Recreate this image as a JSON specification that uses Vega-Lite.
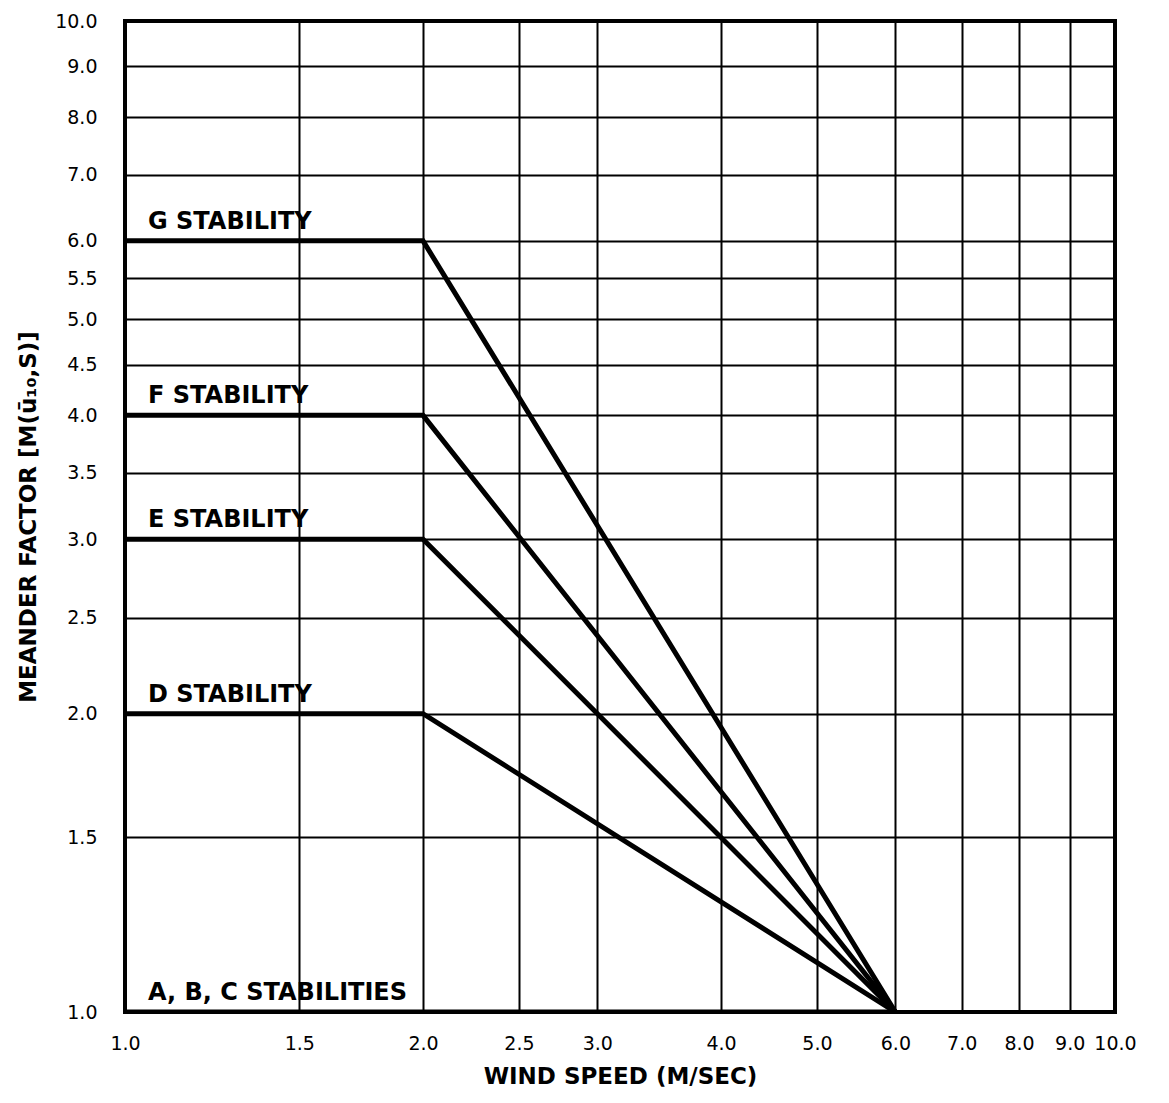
{
  "$schema": "https://vega.github.io/schema/vega-lite/v6.json",
  "autosize": {"type": "none"},
  "padding": {"left": 125, "top": 21, "right": 54, "bottom": 91},
  "width": 990,
  "height": 991,
  "background": "white",
  "config": {
    "view": {"stroke": "black", "strokeWidth": 4},
    "font": "DejaVu Sans",
    "axis": {
      "grid": true,
      "gridColor": "black",
      "gridOpacity": 1,
      "gridWidth": 2,
      "domain": false,
      "ticks": false,
      "labelFlush": false,
      "labelOverlap": false,
      "labelFont": "DejaVu Sans",
      "labelFontSize": 19,
      "labelColor": "black",
      "titleFont": "DejaVu Sans",
      "titleFontSize": 23,
      "titleFontWeight": "bold",
      "titleColor": "black"
    }
  },
  "datasets": {
    "lines": [
      {"series": "G", "speed": 1, "factor": 6},
      {"series": "G", "speed": 2, "factor": 6},
      {"series": "G", "speed": 6, "factor": 1},
      {"series": "F", "speed": 1, "factor": 4},
      {"series": "F", "speed": 2, "factor": 4},
      {"series": "F", "speed": 6, "factor": 1},
      {"series": "E", "speed": 1, "factor": 3},
      {"series": "E", "speed": 2, "factor": 3},
      {"series": "E", "speed": 6, "factor": 1},
      {"series": "D", "speed": 1, "factor": 2},
      {"series": "D", "speed": 2, "factor": 2},
      {"series": "D", "speed": 6, "factor": 1},
      {"series": "ABC", "speed": 1, "factor": 1},
      {"series": "ABC", "speed": 6, "factor": 1}
    ],
    "labels": [
      {"label": "G STABILITY", "speed": 1.055, "factor": 6},
      {"label": "F STABILITY", "speed": 1.055, "factor": 4},
      {"label": "E STABILITY", "speed": 1.055, "factor": 3},
      {"label": "D STABILITY", "speed": 1.055, "factor": 2},
      {"label": "A, B, C STABILITIES", "speed": 1.055, "factor": 1}
    ]
  },
  "layer": [
    {
      "data": {"name": "lines"},
      "mark": {"type": "line", "color": "black", "strokeWidth": 5, "strokeJoin": "miter", "clip": true},
      "encoding": {
        "x": {
          "field": "speed", "type": "quantitative",
          "scale": {"type": "log", "domain": [1, 10], "nice": false},
          "axis": {
            "title": "WIND SPEED (M/SEC)",
            "values": [1, 1.5, 2, 2.5, 3, 4, 5, 6, 7, 8, 9, 10],
            "format": ".1f",
            "labelPadding": 22,
            "titlePadding": 12
          }
        },
        "y": {
          "field": "factor", "type": "quantitative",
          "scale": {"type": "log", "domain": [1, 10], "nice": false},
          "axis": {
            "title": "MEANDER FACTOR [M(ū₁₀,S)]",
            "values": [1, 1.5, 2, 2.5, 3, 3.5, 4, 4.5, 5, 5.5, 6, 7, 8, 9, 10],
            "format": ".1f",
            "labelPadding": 28,
            "titlePadding": 14
          }
        },
        "detail": {"field": "series"}
      }
    },
    {
      "data": {"name": "labels"},
      "mark": {"type": "text", "align": "left", "baseline": "bottom", "dy": -7, "fontSize": 24, "fontWeight": "bold", "color": "black"},
      "encoding": {
        "x": {"field": "speed", "type": "quantitative"},
        "y": {"field": "factor", "type": "quantitative"},
        "text": {"field": "label"}
      }
    }
  ]
}
